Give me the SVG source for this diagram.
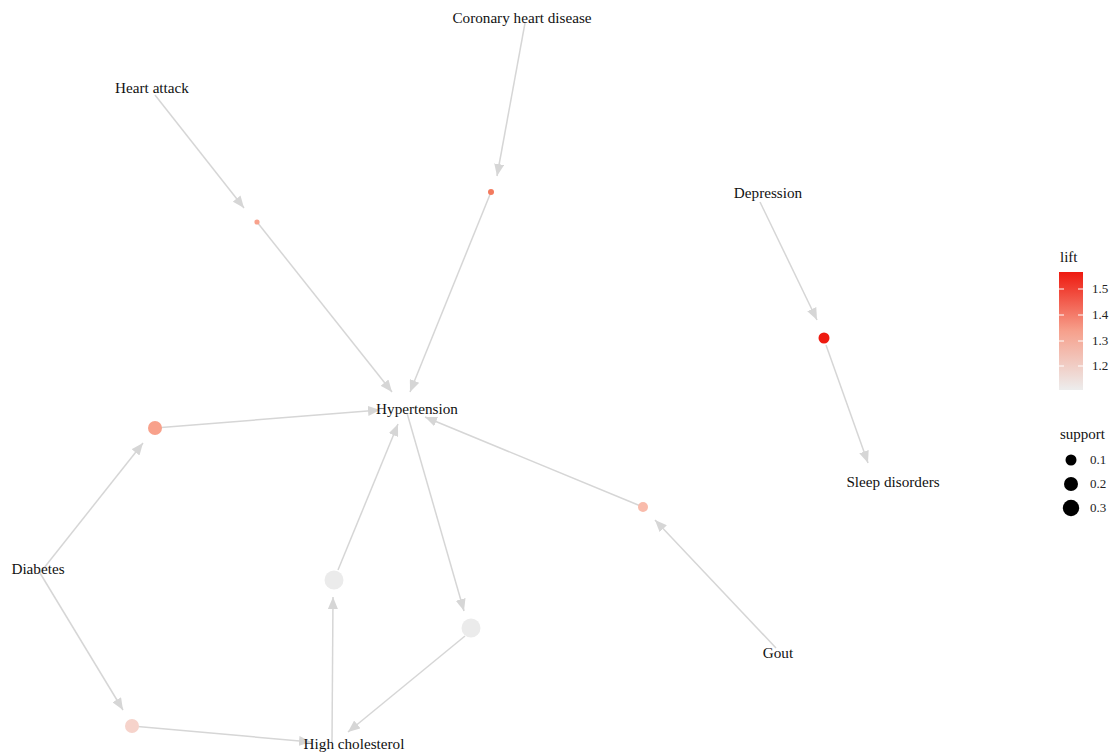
<svg xmlns="http://www.w3.org/2000/svg" width="1115" height="754" viewBox="0 0 1115 754">
<style>
.e{stroke:#d6d6d6;stroke-width:1.5;fill:none;marker-end:url(#ah)}
text{font-family:'Liberation Serif','DejaVu Serif','Times New Roman',serif}
.lbl{font-size:15.2px;fill:#111;text-anchor:middle}
.leg{font-size:15px;fill:#111}
.tk{font-size:13px;fill:#222}
</style>
<defs>
<marker id="ah" markerUnits="userSpaceOnUse" markerWidth="12" markerHeight="10" viewBox="0 0 12 10" refX="12" refY="5" orient="auto">
<path d="M0,0 L12,5 L0,10 Z" fill="#d6d6d6"/>
</marker>
<linearGradient id="lg" x1="0" y1="1" x2="0" y2="0">
<stop offset="0" stop-color="#ededed"/>
<stop offset="0.5" stop-color="#f6a08c"/>
<stop offset="1" stop-color="#ee1a10"/>
</linearGradient>
</defs>
<rect width="1115" height="754" fill="#fff"/>
<g id="edges">
<line class="e" x1="155" y1="95" x2="244" y2="208"/>
<line class="e" x1="257" y1="222" x2="392" y2="392"/>
<line class="e" x1="525" y1="23" x2="497" y2="176"/>
<line class="e" x1="491" y1="192" x2="410" y2="392"/>
<line class="e" x1="760" y1="202" x2="817" y2="320"/>
<line class="e" x1="826" y1="345" x2="868" y2="463"/>
<line class="e" x1="40" y1="573" x2="143" y2="443"/>
<line class="e" x1="155" y1="428" x2="380" y2="410"/>
<line class="e" x1="40" y1="573" x2="123" y2="710"/>
<line class="e" x1="132" y1="726" x2="311" y2="742"/>
<line class="e" x1="332" y1="742" x2="333" y2="597"/>
<line class="e" x1="338" y1="570" x2="398" y2="424"/>
<line class="e" x1="407" y1="413" x2="464" y2="611"/>
<line class="e" x1="465" y1="636" x2="348" y2="732"/>
<line class="e" x1="776" y1="648" x2="655" y2="520"/>
<line class="e" x1="643" y1="507" x2="425" y2="417"/>
</g>
<g id="rule1"><circle cx="257" cy="222" r="2.6" fill="#f8a28c"/></g>
<g id="rule2"><circle cx="491" cy="192" r="3" fill="#f37a5e"/></g>
<g id="rule3"><circle cx="824" cy="338" r="5.5" fill="#ee1a10"/></g>
<g id="rule4"><circle cx="155" cy="428" r="7" fill="#f8a18b"/></g>
<g id="rule5"><circle cx="643" cy="507" r="5" fill="#f9bbab"/></g>
<g id="rule6"><circle cx="334" cy="580" r="9.5" fill="#ebebeb"/></g>
<g id="rule7"><circle cx="471" cy="628" r="9.5" fill="#ebebeb"/></g>
<g id="rule8"><circle cx="132" cy="726" r="7" fill="#f6d3cb"/></g>
<g id="n-heart-attack"><text class="lbl" x="152" y="93">Heart attack</text></g>
<g id="n-chd"><text class="lbl" x="522" y="23">Coronary heart disease</text></g>
<g id="n-depression"><text class="lbl" x="768" y="198">Depression</text></g>
<g id="n-sleep"><text class="lbl" x="893" y="487">Sleep disorders</text></g>
<g id="n-hypertension"><text class="lbl" x="417" y="414">Hypertension</text></g>
<g id="n-diabetes"><text class="lbl" x="38" y="574">Diabetes</text></g>
<g id="n-gout"><text class="lbl" x="778" y="658">Gout</text></g>
<g id="n-cholesterol"><text class="lbl" x="354" y="749">High cholesterol</text></g>
<g id="legend">
<text class="leg" x="1060" y="262">lift</text>
<rect x="1059" y="272" width="24" height="118" fill="url(#lg)"/>
<g stroke="#fff" stroke-width="1">
<line x1="1059" y1="289" x2="1064" y2="289"/><line x1="1078" y1="289" x2="1083" y2="289"/>
<line x1="1059" y1="315" x2="1064" y2="315"/><line x1="1078" y1="315" x2="1083" y2="315"/>
<line x1="1059" y1="341" x2="1064" y2="341"/><line x1="1078" y1="341" x2="1083" y2="341"/>
<line x1="1059" y1="366" x2="1064" y2="366"/><line x1="1078" y1="366" x2="1083" y2="366"/>
</g>
<text class="tk" x="1092" y="293">1.5</text>
<text class="tk" x="1092" y="319">1.4</text>
<text class="tk" x="1092" y="345">1.3</text>
<text class="tk" x="1092" y="370">1.2</text>
<text class="leg" x="1060" y="439">support</text>
<circle cx="1071" cy="460" r="5.5" fill="#000"/>
<circle cx="1071" cy="484" r="7" fill="#000"/>
<circle cx="1071" cy="508" r="8.2" fill="#000"/>
<text class="tk" x="1090" y="464">0.1</text>
<text class="tk" x="1090" y="488">0.2</text>
<text class="tk" x="1090" y="512">0.3</text>
</g>
</svg>
